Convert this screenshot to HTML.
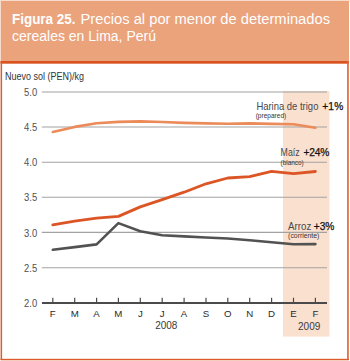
<!DOCTYPE html>
<html><head><meta charset="utf-8"><style>
html,body{margin:0;padding:0;background:#fff;}
svg{display:block;}
text{font-family:"Liberation Sans",sans-serif;}
.g{stroke:#a2a2a2;stroke-width:1.05;}
.t{stroke:#4a4a4a;stroke-width:1.2;}
.yl{font-size:10.3px;fill:#505050;}
.xl{font-size:9.7px;fill:#2a2a2a;text-anchor:middle;}
.lab{font-size:10.2px;fill:#484848;}
.pct{font-size:10.2px;fill:#111;stroke:#111;stroke-width:0.25;}
.sub{font-size:7px;fill:#333;}
</style></head><body>
<svg width="350" height="361" viewBox="0 0 350 361">
<rect x="0" y="0" width="350" height="361" fill="#fff"/>
<rect x="1" y="1" width="348" height="61" fill="#eba37c"/>
<text x="12" y="24" style="font-size:14px;fill:#fff;font-weight:bold" textLength="63.5" lengthAdjust="spacingAndGlyphs">Figura 25.</text>
<text x="80.5" y="24" style="font-size:14px;fill:#fff;" textLength="249.5" lengthAdjust="spacingAndGlyphs">Precios al por menor de determinados</text>
<text x="12" y="40.5" style="font-size:14px;fill:#fff;">cereales en Lima, Perú</text>
<rect x="0" y="0" width="350" height="1" fill="#f7dccd"/>
<rect x="0" y="0" width="1" height="62" fill="#f7dccd"/>
<rect x="0.5" y="61" width="348.5" height="2.7" fill="#d9531f"/>
<rect x="0.6" y="61" width="1.5" height="299" fill="#dd5a2a"/>
<rect x="347.1" y="61" width="1.7" height="299" fill="#e0683a"/>
<rect x="0.6" y="358.8" width="348.2" height="1.5" fill="#dd5a2a"/>
<rect x="283" y="91" width="46.4" height="245.6" fill="#fae0cf"/>
<line x1="41.8" y1="91.9" x2="327" y2="91.9" class="g"/>
<line x1="41.8" y1="126.9" x2="327" y2="126.9" class="g"/>
<line x1="41.8" y1="162.3" x2="327" y2="162.3" class="g"/>
<line x1="41.8" y1="197.3" x2="327" y2="197.3" class="g"/>
<line x1="41.8" y1="232.35" x2="327" y2="232.35" class="g"/>
<line x1="41.8" y1="267.8" x2="327" y2="267.8" class="g"/>

<line x1="42" y1="303" x2="327" y2="303" stroke="#4a4a4a" stroke-width="2"/>
<line x1="52.8" y1="297.7" x2="52.8" y2="303" class="t"/>
<line x1="74.7" y1="297.7" x2="74.7" y2="303" class="t"/>
<line x1="96.6" y1="297.7" x2="96.6" y2="303" class="t"/>
<line x1="118.4" y1="297.7" x2="118.4" y2="303" class="t"/>
<line x1="140.3" y1="297.7" x2="140.3" y2="303" class="t"/>
<line x1="162.2" y1="297.7" x2="162.2" y2="303" class="t"/>
<line x1="184.1" y1="297.7" x2="184.1" y2="303" class="t"/>
<line x1="206.0" y1="297.7" x2="206.0" y2="303" class="t"/>
<line x1="227.8" y1="297.7" x2="227.8" y2="303" class="t"/>
<line x1="249.7" y1="297.7" x2="249.7" y2="303" class="t"/>
<line x1="271.6" y1="297.7" x2="271.6" y2="303" class="t"/>
<line x1="293.5" y1="297.7" x2="293.5" y2="303" class="t"/>
<line x1="315.4" y1="297.7" x2="315.4" y2="303" class="t"/>

<text x="24.1" y="95.7" class="yl" textLength="13.1" lengthAdjust="spacingAndGlyphs">5.0</text>
<text x="24.1" y="130.9" class="yl" textLength="13.1" lengthAdjust="spacingAndGlyphs">4.5</text>
<text x="24.1" y="166.2" class="yl" textLength="13.1" lengthAdjust="spacingAndGlyphs">4.0</text>
<text x="24.1" y="201.4" class="yl" textLength="13.1" lengthAdjust="spacingAndGlyphs">3.5</text>
<text x="24.1" y="236.7" class="yl" textLength="13.1" lengthAdjust="spacingAndGlyphs">3.0</text>
<text x="24.1" y="271.9" class="yl" textLength="13.1" lengthAdjust="spacingAndGlyphs">2.5</text>
<text x="24.1" y="307.2" class="yl" textLength="13.1" lengthAdjust="spacingAndGlyphs">2.0</text>

<text x="52.8" y="317.1" class="xl">F</text>
<text x="74.7" y="317.1" class="xl">M</text>
<text x="96.6" y="317.1" class="xl">A</text>
<text x="118.4" y="317.1" class="xl">M</text>
<text x="140.3" y="317.1" class="xl">J</text>
<text x="162.2" y="317.1" class="xl">J</text>
<text x="184.1" y="317.1" class="xl">A</text>
<text x="206.0" y="317.1" class="xl">S</text>
<text x="227.8" y="317.1" class="xl">O</text>
<text x="249.7" y="317.1" class="xl">N</text>
<text x="271.6" y="317.1" class="xl">D</text>
<text x="293.5" y="317.1" class="xl">E</text>
<text x="315.4" y="317.1" class="xl">F</text>

<text x="4.9" y="79.8" style="font-size:10.3px;fill:#333;" textLength="79" lengthAdjust="spacingAndGlyphs">Nuevo sol (PEN)/kg</text>
<text x="309.2" y="330" class="xl" style="font-size:10px;fill:#3a3a3a">2009</text>
<text x="166.3" y="329" class="xl" style="font-size:10px;fill:#3a3a3a">2008</text>
<polyline points="52.8,132.0 74.7,126.9 96.6,123.2 118.4,121.9 140.3,121.4 162.2,122.0 184.1,122.9 206.0,123.4 227.8,123.8 249.7,123.4 271.6,123.9 293.5,124.3 315.4,127.8" fill="none" stroke="#ec8b5a" stroke-width="2.6" stroke-linejoin="round" stroke-linecap="round"/>
<polyline points="52.8,224.8 74.7,221.1 96.6,218.2 118.4,216.4 140.3,206.9 162.2,199.6 184.1,192.2 206.0,183.8 227.8,178.0 249.7,176.7 271.6,171.3 293.5,173.6 315.4,171.5" fill="none" stroke="#dc5524" stroke-width="2.8" stroke-linejoin="round" stroke-linecap="round"/>
<polyline points="52.8,249.8 74.7,247.1 96.6,244.4 118.4,223.1 140.3,231.2 162.2,235.2 184.1,236.4 206.0,237.5 227.8,238.5 249.7,240.2 271.6,242.3 293.5,244.3 315.4,244.1" fill="none" stroke="#525252" stroke-width="2.6" stroke-linejoin="round" stroke-linecap="round"/>
<text x="256.4" y="110" class="lab" textLength="62" lengthAdjust="spacingAndGlyphs">Harina de trigo</text>
<text x="322.2" y="110" class="pct" textLength="21" lengthAdjust="spacing">+1%</text>
<text x="255.7" y="118.3" class="sub" textLength="30.5" lengthAdjust="spacingAndGlyphs">(prepared)</text>
<text x="280.6" y="156" class="lab" textLength="19" lengthAdjust="spacingAndGlyphs">Maíz</text>
<text x="303.6" y="156" class="pct" textLength="25.6" lengthAdjust="spacing">+24%</text>
<text x="280.6" y="164.6" class="sub" textLength="23" lengthAdjust="spacingAndGlyphs">(blanco)</text>
<text x="288.1" y="229.8" class="lab" textLength="23.2" lengthAdjust="spacingAndGlyphs">Arroz</text>
<text x="313.8" y="229.8" class="pct" textLength="20.6" lengthAdjust="spacing">+3%</text>
<text x="288.1" y="237.6" class="sub" textLength="31.3" lengthAdjust="spacingAndGlyphs">(corriente)</text>
</svg>
</body></html>
